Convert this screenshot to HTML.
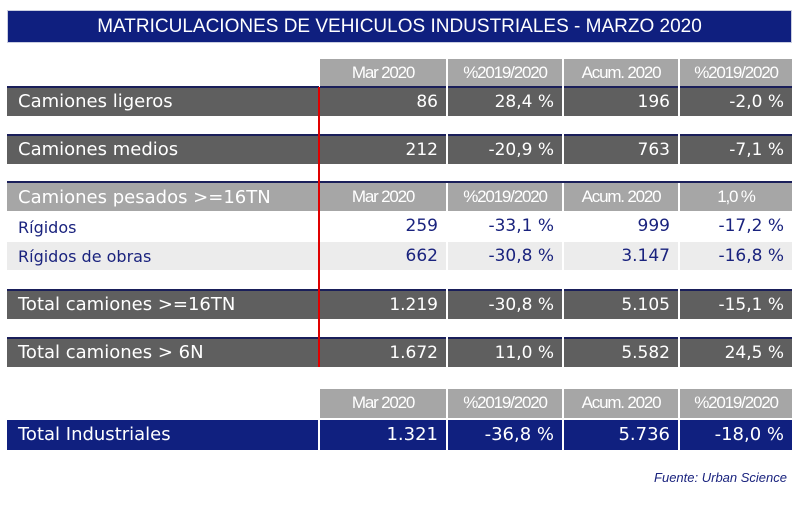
<!DOCTYPE html><html><head><meta charset="utf-8"><style>
body{margin:0;width:800px;height:509px;background:#fff;position:relative;overflow:hidden;font-family:"DejaVu Sans","Liberation Sans",sans-serif}
div{position:absolute;box-sizing:border-box;white-space:nowrap}
.t{left:7px;top:10px;width:785px;height:33px;background:#0f1f7f;border:1px solid #c9cde0;color:#fff;font:19px "Liberation Sans",sans-serif;text-align:center;line-height:31px}
.h{background:#a6a6a6;color:#fff;font-family:"Liberation Sans",sans-serif;font-size:17px;letter-spacing:-1.2px;text-align:center;line-height:28px}
.d{background:#5f5f5f;color:#fff;font-size:17px;text-align:right;padding-right:8px;border-top:2px solid #1a1f5a}
.l{background:#5f5f5f;color:#fff;font-size:18px;padding-left:11px;border-top:2px solid #1a1f5a}
.n{background:#10207f;color:#fff;font-size:18px;text-align:right;padding-right:8px}
.w{color:#1a237e;font-size:16px;text-align:right;padding-right:8px}
</style></head><body>
<div class="t">MATRICULACIONES DE VEHICULOS INDUSTRIALES - MARZO 2020</div>

<div class="h" style="left:320px;top:59px;width:126px;height:28px">Mar 2020</div>
<div class="h" style="left:448px;top:59px;width:114px;height:28px">%2019/2020</div>
<div class="h" style="left:564px;top:59px;width:114px;height:28px">Acum. 2020</div>
<div class="h" style="left:680px;top:59px;width:112px;height:28px">%2019/2020</div>

<div class="l" style="left:7px;top:86px;width:312px;height:30px;line-height:28px">Camiones ligeros</div>
<div class="d" style="left:320px;top:86px;width:126px;height:30px;line-height:28px">86</div>
<div class="d" style="left:448px;top:86px;width:114px;height:30px;line-height:28px">28,4 %</div>
<div class="d" style="left:564px;top:86px;width:114px;height:30px;line-height:28px">196</div>
<div class="d" style="left:680px;top:86px;width:112px;height:30px;line-height:28px">-2,0 %</div>

<div class="l" style="left:7px;top:134px;width:312px;height:30px;line-height:28px">Camiones medios</div>
<div class="d" style="left:320px;top:134px;width:126px;height:30px;line-height:28px">212</div>
<div class="d" style="left:448px;top:134px;width:114px;height:30px;line-height:28px">-20,9 %</div>
<div class="d" style="left:564px;top:134px;width:114px;height:30px;line-height:28px">763</div>
<div class="d" style="left:680px;top:134px;width:112px;height:30px;line-height:28px">-7,1 %</div>

<div style="left:7px;top:181px;width:785px;height:2px;background:#1a1f5a"></div>
<div class="h" style="left:7px;top:183px;width:312px;height:28px;font-family:'DejaVu Sans',sans-serif;font-size:18px;line-height:30px;text-align:left;padding-left:11px;letter-spacing:0">Camiones pesados &gt;=16TN</div>
<div class="h" style="left:320px;top:183px;width:126px;height:28px">Mar 2020</div>
<div class="h" style="left:448px;top:183px;width:114px;height:28px">%2019/2020</div>
<div class="h" style="left:564px;top:183px;width:114px;height:28px">Acum. 2020</div>
<div class="h" style="left:680px;top:183px;width:112px;height:28px">1,0 %</div>

<div class="w" style="left:7px;top:212px;width:312px;height:29px;line-height:31px;text-align:left;padding-left:11px">Rígidos</div>
<div class="w" style="left:320px;top:212px;width:126px;height:29px;line-height:29px;font-size:17px">259</div>
<div class="w" style="left:448px;top:212px;width:114px;height:29px;line-height:29px;font-size:17px">-33,1 %</div>
<div class="w" style="left:564px;top:212px;width:114px;height:29px;line-height:29px;font-size:17px">999</div>
<div class="w" style="left:680px;top:212px;width:112px;height:29px;line-height:29px;font-size:17px">-17,2 %</div>

<div class="w" style="left:7px;top:242px;width:312px;height:28px;line-height:30px;text-align:left;padding-left:11px;background:#ececec">Rígidos de obras</div>
<div class="w" style="left:320px;top:242px;width:126px;height:28px;line-height:28px;font-size:17px;background:#ececec">662</div>
<div class="w" style="left:448px;top:242px;width:114px;height:28px;line-height:28px;font-size:17px;background:#ececec">-30,8 %</div>
<div class="w" style="left:564px;top:242px;width:114px;height:28px;line-height:28px;font-size:17px;background:#ececec">3.147</div>
<div class="w" style="left:680px;top:242px;width:112px;height:28px;line-height:28px;font-size:17px;background:#ececec">-16,8 %</div>

<div class="l" style="left:7px;top:289px;width:312px;height:30px;line-height:28px">Total camiones &gt;=16TN</div>
<div class="d" style="left:320px;top:289px;width:126px;height:30px;line-height:28px">1.219</div>
<div class="d" style="left:448px;top:289px;width:114px;height:30px;line-height:28px">-30,8 %</div>
<div class="d" style="left:564px;top:289px;width:114px;height:30px;line-height:28px">5.105</div>
<div class="d" style="left:680px;top:289px;width:112px;height:30px;line-height:28px">-15,1 %</div>

<div class="l" style="left:7px;top:337px;width:312px;height:30px;line-height:28px">Total camiones &gt; 6N</div>
<div class="d" style="left:320px;top:337px;width:126px;height:30px;line-height:28px">1.672</div>
<div class="d" style="left:448px;top:337px;width:114px;height:30px;line-height:28px">11,0 %</div>
<div class="d" style="left:564px;top:337px;width:114px;height:30px;line-height:28px">5.582</div>
<div class="d" style="left:680px;top:337px;width:112px;height:30px;line-height:28px">24,5 %</div>

<div style="left:318px;top:87px;width:2px;height:280px;background:#e00000"></div>

<div class="h" style="left:320px;top:389px;width:126px;height:29px">Mar 2020</div>
<div class="h" style="left:448px;top:389px;width:114px;height:29px">%2019/2020</div>
<div class="h" style="left:564px;top:389px;width:114px;height:29px">Acum. 2020</div>
<div class="h" style="left:680px;top:389px;width:112px;height:29px">%2019/2020</div>

<div class="n" style="left:7px;top:420px;width:311px;height:30px;line-height:30px;text-align:left;padding-left:11px">Total Industriales</div>
<div class="n" style="left:320px;top:420px;width:126px;height:30px;line-height:30px">1.321</div>
<div class="n" style="left:448px;top:420px;width:114px;height:30px;line-height:30px">-36,8 %</div>
<div class="n" style="left:564px;top:420px;width:114px;height:30px;line-height:30px">5.736</div>
<div class="n" style="left:680px;top:420px;width:112px;height:30px;line-height:30px">-18,0 %</div>

<div style="right:13px;top:470px;color:#1a237e;font:italic 13px 'Liberation Sans',sans-serif">Fuente: Urban Science</div>
</body></html>
